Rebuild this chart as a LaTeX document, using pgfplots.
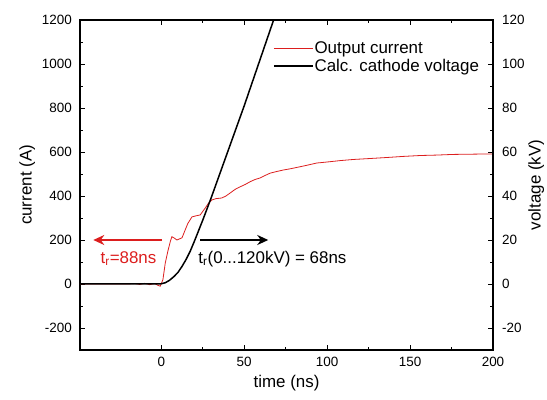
\documentclass[border=0pt]{standalone}
\usepackage{fontspec}
\setmainfont{Liberation Sans}
\usepackage{pgfplots}
\pgfplotsset{compat=1.18}
\usetikzlibrary{arrows.meta,calc}

\definecolor{curred}{RGB}{220,30,30}

\pgfplotsset{
  common/.style={
    scale only axis, width=413bp, height=330bp,
    xmin=-49, xmax=200,
    axis line style={line width=1.2bp},
    tick style={line width=0.9bp, black},
    major tick length=5bp, minor tick length=3bp,
    /pgf/number format/assume math mode=true,
    /pgf/number format/1000 sep={},
    ticklabel style={font=\fontsize{13.5}{15}\selectfont},
    label style={font=\fontsize{17}{19}\selectfont},
  }
}

\begin{document}
\begin{tikzpicture}
\begin{axis}[common, name=ax,
  ymin=-300, ymax=1200,
  xtick={0,50,100,150,200}, minor x tick num=1,
  ytick={-200,0,200,400,600,800,1000,1200}, minor y tick num=1,
  ytick pos=left,
  xticklabel style={inner sep=0pt, anchor=north, yshift=-7bp},
  yticklabel style={inner sep=0pt, anchor=east, xshift=-8bp},
  xlabel={time (ns)}, ylabel={current (A)},
  xlabel style={at={(axis description cs:0.5,-0.1)}, anchor=center},
  ylabel style={at={(axis description cs:-0.128,0.5)}, anchor=center},
  clip=true]
\addplot[curred, line width=0.8bp] coordinates {
  (-49,0) (-20,0) (-16,2) (-13,-2) (-10,3) (-7,-3) (-4,2) (-2,-6) (-0.6,-10)
  (1,20) (2.4,95) (4,150) (5.5,195) (6.4,215) (8,208) (9.4,200) (11,205)
  (12.5,210) (14,238) (16,275) (18.5,305) (21,310) (23.5,314) (25,330)
  (26.5,345) (28.5,368) (30.5,382) (33,388) (36.5,391) (39,400) (41.6,414)
  (44.5,430) (47.6,442) (50.5,452) (53.6,465) (56.5,475) (59.6,482)
  (62.5,493) (65.7,504) (70,512) (73.5,518) (78,524) (83.7,533) (88,540)
  (93.8,550) (98,553) (101.8,556) (108,561) (115.7,566) (125,570) (136,575)
  (146,580) (156,584) (166,586) (176,589) (186,590) (196,591) (200,591)
};
\draw[curred, line width=2.6bp, -{Stealth[length=11bp,width=10bp]}]
  (axis cs:0.5,200) -- (axis cs:-41,200);
\draw[black, line width=2.2bp, -{Stealth[length=11bp,width=10bp]}]
  (axis cs:23.5,200) -- (axis cs:64.5,200);
\node[anchor=base west, inner sep=0pt, text=curred, font=\fontsize{17}{19}\selectfont]
  at (axis cs:-36.7,95) {t\textsubscript{r}=88ns};
\node[anchor=base west, inner sep=0pt, font=\fontsize{17}{19}\selectfont]
  at (axis cs:22.3,95) {t\textsubscript{r}(0...120kV) = 68ns};
\end{axis}
\begin{axis}[common,
  ymin=-30, ymax=120,
  axis x line=none, axis y line*=right,
  ytick={-20,0,20,40,60,80,100,120}, minor y tick num=1,
  yticklabel style={inner sep=0pt, anchor=west, xshift=9bp},
  ylabel={voltage (kV)},
  ylabel style={at={(axis description cs:1.105,0.5)}, anchor=center},
  legend style={draw=none, fill=none, at={(rel axis cs:0.467,0.938)},
    anchor=north west, inner sep=0pt, row sep=2bp,
    font=\fontsize{17}{19}\selectfont, nodes={inner sep=1bp}},
  legend cell align=left,
  legend image code/.code={\draw[#1] (0bp,0bp) -- (39bp,0bp);},
  clip=true]
\addlegendimage{curred, line width=1bp}
\addlegendentry{Output current}
\addplot[black, line width=1.5bp] coordinates {
  (-49,0) (-1,0) (0,0.1) (2.5,0.6) (5,1.7) (7.5,3.3) (10,5.2) (12.5,8)
  (15,11.2) (17.5,15) (20,19.5) (25,29) (30,39) (35,49.5) (40,60)
  (45,70.5) (50,81) (55,92) (60,103) (65,114) (70,125)
};
\addlegendentry{Calc. cathode voltage}
\end{axis}
\pgfresetboundingbox
\path[use as bounding box] ($(ax.south west)+(-80bp,-50bp)$) rectangle ($(ax.north east)+(54bp,20bp)$);
\end{tikzpicture}
\end{document}
